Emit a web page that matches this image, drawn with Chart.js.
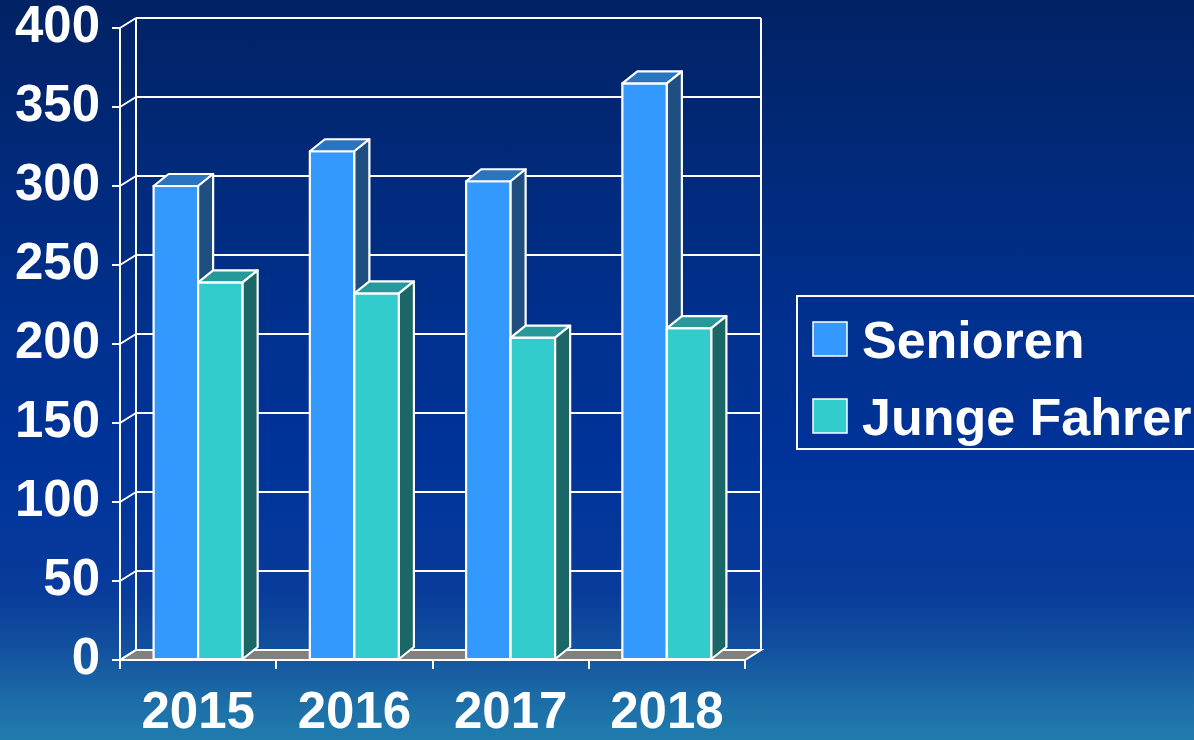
<!DOCTYPE html>
<html>
<head>
<meta charset="utf-8">
<title>Senioren / Junge Fahrer</title>
<script src="https://cdn.jsdelivr.net/npm/chart.js@4.4.1/dist/chart.umd.min.js"></script>
<style>
    html, body {
        margin: 0;
        padding: 0;
        width: 1194px;
        height: 740px;
        overflow: hidden;
    }
    body {
        background: linear-gradient(to bottom, #012264 0%, #00318f 45%, #003399 62%, #083b9b 80%, #13529f 88%, #1d6ea8 95%, #207cac 100%);
    }
    #wrap {
        position: relative;
        width: 1194px;
        height: 740px;
    }
</style>
</head>
<body>
<div id="wrap"><canvas id="barChart"></canvas></div>
<script>
// Data
const years = ['2015', '2016', '2017', '2018'];
const senioren = [300, 322, 303, 365];
const jungeFahrer = [239, 232, 204, 210];
const yTickValues = [0, 50, 100, 150, 200, 250, 300, 350, 400];

const FONT = '"Liberation Sans", Arial, sans-serif';

// depth offsets for the fake 3D look
const WALL_DX = 16, WALL_DY = -10;
const BAR_DX = 15, BAR_DY = -12;

// colours: front, top, side
const seniorColors = ['#3399ff', '#2b74c0', '#1f4f80'];
const jungeColors = ['#33cccc', '#269a9a', '#1b6666'];

// Back wall, side wall and floor behind the bars
const wallPlugin = {
    id: 'wall3d',
    beforeDatasetsDraw(chart) {
        const ctx = chart.ctx;
        const area = chart.chartArea;
        const y = chart.scales.y;
        ctx.save();
        ctx.strokeStyle = '#ffffff';
        ctx.lineWidth = 2;

        // floor
        ctx.fillStyle = '#808080';
        ctx.beginPath();
        ctx.moveTo(area.left, area.bottom);
        ctx.lineTo(area.right, area.bottom);
        ctx.lineTo(area.right + WALL_DX, area.bottom + WALL_DY);
        ctx.lineTo(area.left + WALL_DX, area.bottom + WALL_DY);
        ctx.closePath();
        ctx.fill();
        ctx.stroke();

        // grid lines on back wall + diagonals on side wall
        y.ticks.forEach(t => {
            const py = y.getPixelForValue(t.value);
            ctx.beginPath();
            ctx.moveTo(area.left + WALL_DX, py + WALL_DY);
            ctx.lineTo(area.right + WALL_DX, py + WALL_DY);
            ctx.moveTo(area.left, py);
            ctx.lineTo(area.left + WALL_DX, py + WALL_DY);
            ctx.stroke();
        });

        // vertical edges of the back wall
        ctx.beginPath();
        ctx.moveTo(area.left + WALL_DX, area.top + WALL_DY);
        ctx.lineTo(area.left + WALL_DX, area.bottom + WALL_DY);
        ctx.moveTo(area.right + WALL_DX, area.top + WALL_DY);
        ctx.lineTo(area.right + WALL_DX, area.bottom + WALL_DY);
        ctx.stroke();
        ctx.restore();
    },
    // redraw bars category by category so faces overlap like in the original
    afterDatasetsDraw(chart) {
        const ctx = chart.ctx;
        const metas = [chart.getDatasetMeta(0), chart.getDatasetMeta(1)];
        const cols = [seniorColors, jungeColors];
        ctx.save();
        ctx.strokeStyle = '#ffffff';
        ctx.lineWidth = 2.2;
        ctx.lineJoin = 'round';
        for (let i = 0; i < years.length; i++) {
            metas.forEach((meta, d) => {
                const bar = meta.data[i];
                const p = bar.getProps(['x', 'y', 'base', 'width'], true);
                const l = p.x - p.width / 2, r = p.x + p.width / 2;
                const top = p.y, bot = p.base;
                const c = cols[d];
                // front
                ctx.fillStyle = c[0];
                ctx.fillRect(l, top, r - l, bot - top);
                ctx.strokeRect(l, top, r - l, bot - top);
                // top
                ctx.fillStyle = c[1];
                ctx.beginPath();
                ctx.moveTo(l, top);
                ctx.lineTo(l + BAR_DX, top + BAR_DY);
                ctx.lineTo(r + BAR_DX, top + BAR_DY);
                ctx.lineTo(r, top);
                ctx.closePath();
                ctx.fill();
                ctx.stroke();
                // side
                ctx.fillStyle = c[2];
                ctx.beginPath();
                ctx.moveTo(r, top);
                ctx.lineTo(r + BAR_DX, top + BAR_DY);
                ctx.lineTo(r + BAR_DX, bot + BAR_DY);
                ctx.lineTo(r, bot);
                ctx.closePath();
                ctx.fill();
                ctx.stroke();
            });
        }
        ctx.restore();
    }
};

// Legend box on the right
const legendPlugin = {
    id: 'legendBox',
    afterDraw(chart) {
        const ctx = chart.ctx;
        ctx.save();
        ctx.strokeStyle = '#ffffff';
        ctx.lineWidth = 2;
        ctx.strokeRect(797, 296, 420, 153);
        ctx.font = 'bold 52px ' + FONT;
        ctx.textBaseline = 'alphabetic';
        ctx.textAlign = 'left';
        chart.data.datasets.forEach((ds, i) => {
            const top = 322 + i * 77;
            ctx.fillStyle = ds.backgroundColor;
            ctx.fillRect(813, top, 34, 34);
            ctx.lineWidth = 1.5;
            ctx.strokeRect(813, top, 34, 34);
            ctx.fillStyle = '#ffffff';
            ctx.fillText(ds.label, 862, top + 36);
        });
        ctx.restore();
    }
};

const ctx = document.getElementById('barChart').getContext('2d');
const chart = new Chart(ctx, {
    type: 'bar',
    data: {
        labels: years,
        datasets: [
            { label: 'Senioren', data: senioren, backgroundColor: seniorColors[0], borderColor: '#ffffff', borderWidth: 2 },
            { label: 'Junge Fahrer', data: jungeFahrer, backgroundColor: jungeColors[0], borderColor: '#ffffff', borderWidth: 2 }
        ]
    },
    options: {
        responsive: true,
        maintainAspectRatio: false,
        animation: false,
        layout: { padding: { top: 28, right: 449, bottom: 0, left: 0 } },
        datasets: {
            bar: { categoryPercentage: 0.57, barPercentage: 1.0 }
        },
        scales: {
            x: {
                grid: { display: true, drawOnChartArea: false, drawTicks: true, tickLength: 9, color: '#ffffff', lineWidth: 2 },
                border: { display: true, color: '#ffffff', width: 2 },
                ticks: {
                    color: '#ffffff',
                    padding: 14,
                    font: { family: FONT, size: 51, weight: 'bold' }
                },
                afterFit(scale) {
                    scale.height = 80;
                }
            },
            y: {
                min: 0,
                max: 400,
                afterBuildTicks(scale) {
                    scale.ticks = yTickValues.map(v => ({ value: v }));
                },
                grid: { display: true, drawOnChartArea: false, drawTicks: true, tickLength: 8, color: '#ffffff', lineWidth: 2 },
                border: { display: true, color: '#ffffff', width: 2 },
                ticks: {
                    color: '#ffffff',
                    padding: 12,
                    font: { family: FONT, size: 51, weight: 'bold' }
                },
                afterFit(scale) {
                    scale.width = 120;
                    scale.paddingTop = 0;
                    scale.paddingBottom = 0;
                }
            }
        },
        plugins: {
            legend: { display: false },
            tooltip: { enabled: false }
        }
    },
    plugins: [wallPlugin, legendPlugin]
});
</script>
</body>
</html>
